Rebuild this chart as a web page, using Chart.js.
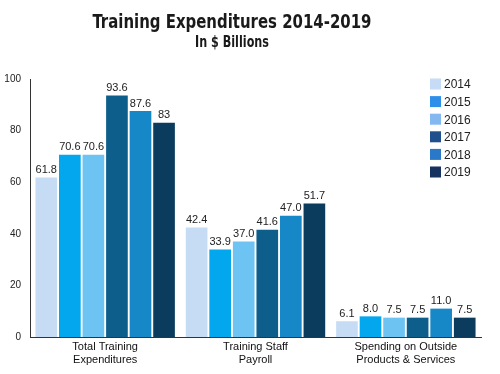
<!DOCTYPE html>
<html>
<head>
<meta charset="utf-8">
<script src="https://cdn.jsdelivr.net/npm/chart.js@4/dist/chart.umd.min.js"></script>
<style>
  body { margin: 0; background: #fff; }
  #wrap { width: 500px; height: 374px; position: relative; }
</style>
</head>
<body>
<div id="wrap"><canvas id="trainingChart" width="500" height="374"></canvas></div>
<script>
const categories = [
  ["Total Training", "Expenditures"],
  ["Training Staff", "Payroll"],
  ["Spending on Outside", "Products & Services"],
];
const years = ["2014", "2015", "2016", "2017", "2018", "2019"];

// one array per year: [total, staff payroll, outside spending]
const values2014 = [61.8, 42.4, 6.1];
const values2015 = [70.6, 33.9, 8.0];
const values2016 = [70.6, 37.0, 7.5];
const values2017 = [93.6, 41.6, 7.5];
const values2018 = [87.6, 47.0, 11.0];
const values2019 = [83, 51.7, 7.5];

// labels as printed on the chart
const text2014 = ["61.8", "42.4", "6.1"];
const text2015 = ["70.6", "33.9", "8.0"];
const text2016 = ["70.6", "37.0", "7.5"];
const text2017 = ["93.6", "41.6", "7.5"];
const text2018 = ["87.6", "47.0", "11.0"];
const text2019 = ["83", "51.7", "7.5"];

const yTicks = [0, 20, 40, 60, 80, 100];

const barColors = ["#c6dcf4", "#03a7ee", "#6dc4f3", "#0e5e8c", "#1688c8", "#0b3c5e"];
const legendColors = ["#c6dbf5", "#2e8fe8", "#84b8f0", "#1f4f8c", "#2a78c8", "#16325e"];

const allValues = [values2014, values2015, values2016, values2017, values2018, values2019];
const allText = [text2014, text2015, text2016, text2017, text2018, text2019];

const datasets = years.map((y, i) => ({
  label: y,
  data: allValues[i],
  valueText: allText[i],
  backgroundColor: barColors[i],
  borderWidth: 0,
  categoryPercentage: 0.94,
  barPercentage: 0.92,
}));

// titles drawn squeezed a bit to look like a condensed face
const titlePlugin = {
  id: "titles",
  afterDraw(chart) {
    const c = chart.ctx;
    c.save();
    c.fillStyle = "#1a1a1a";
    c.textAlign = "center";
    c.textBaseline = "alphabetic";
    c.translate(232, 0);
    c.scale(0.83, 1);
    c.font = "bold 20px 'DejaVu Sans Condensed', 'DejaVu Sans', sans-serif";
    c.fillText("Training Expenditures 2014-2019", 0, 28);
    c.font = "bold 15px 'DejaVu Sans Condensed', 'DejaVu Sans', sans-serif";
    c.fillText("In $ Billions", 0, 47);
    c.restore();
  },
};

const valueLabels = {
  id: "valueLabels",
  afterDatasetsDraw(chart) {
    const c = chart.ctx;
    c.save();
    c.font = "11px 'Liberation Sans', Arial, sans-serif";
    c.fillStyle = "#222";
    c.textAlign = "center";
    c.textBaseline = "bottom";
    chart.data.datasets.forEach((ds, i) => {
      chart.getDatasetMeta(i).data.forEach((bar, j) => {
        c.fillText(ds.valueText[j], bar.x, bar.y - 2);
      });
    });
    c.restore();
  },
};

const sideLegend = {
  id: "sideLegend",
  afterDraw(chart) {
    const c = chart.ctx;
    c.save();
    c.font = "12px 'Liberation Sans', Arial, sans-serif";
    c.textBaseline = "middle";
    c.textAlign = "left";
    years.forEach((y, i) => {
      const cy = 84 + i * 17.6;
      c.fillStyle = legendColors[i];
      c.fillRect(430, cy - 5.5, 11, 11);
      c.fillStyle = "#222";
      c.fillText(y, 444, cy + 1);
    });
    c.restore();
  },
};

const ctx = document.getElementById("trainingChart").getContext("2d");
new Chart(ctx, {
  type: "bar",
  data: { labels: categories, datasets: datasets },
  options: {
    responsive: false,
    animation: false,
    layout: { padding: { top: 79, right: 19, left: 0, bottom: 0 } },
    plugins: {
      legend: { display: false },
      tooltip: { enabled: false },
    },
    scales: {
      x: {
        grid: { display: false, drawTicks: false },
        border: { display: true, color: "#333", width: 1 },
        ticks: {
          color: "#111",
          padding: 4,
          font: { size: 11, family: "'Liberation Sans', Arial, sans-serif", lineHeight: 1.15 },
          maxRotation: 0,
          autoSkip: false,
        },
        afterFit(scale) { scale.height = 37; },
      },
      y: {
        min: 0,
        max: 100,
        afterBuildTicks(scale) { scale.ticks = yTicks.map(v => ({ value: v })); },
        grid: { display: false, drawTicks: false },
        border: { display: true, color: "#333", width: 1 },
        ticks: {
          color: "#222",
          padding: 9,
          font: { size: 10, family: "'Liberation Sans', Arial, sans-serif" },
        },
        afterFit(scale) { scale.width = 30; },
      },
    },
  },
  plugins: [titlePlugin, valueLabels, sideLegend],
});
</script>
</body>
</html>
